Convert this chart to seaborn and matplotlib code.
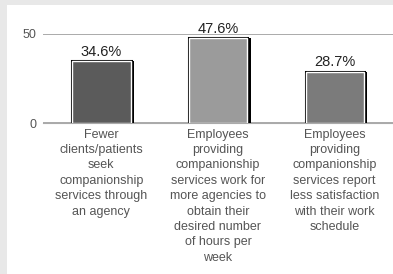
import matplotlib
matplotlib.use("Agg")
import matplotlib.pyplot as plt
import matplotlib.patheffects as pe
from matplotlib.patches import Rectangle
import seaborn as sns
import pandas as pd

# data
categories = [
    "Fewer\nclients/patients\nseek\ncompanionship\nservices through\nan agency",
    "Employees\nproviding\ncompanionship\nservices work for\nmore agencies to\nobtain their\ndesired number\nof hours per\nweek",
    "Employees\nproviding\ncompanionship\nservices report\nless satisfaction\nwith their work\nschedule",
]
values = [34.6, 47.6, 28.7]
bar_colors = ["#5b5b5b", "#9b9b9b", "#7b7b7b"]

sns.set_style("white")
plt.rcParams["font.family"] = ["Liberation Sans", "DejaVu Sans"]

df = pd.DataFrame({"cat": categories, "val": values})

fig = plt.figure(figsize=(3.93, 2.74), dpi=100, facecolor="#e8e8e8")
fig.patches.append(Rectangle((7 / 393, 0), 1, 1 - 5 / 274, transform=fig.transFigure,
                             facecolor="white", edgecolor="none", zorder=-10))
ax = fig.add_axes([43 / 393, 151 / 274, 1 - 43 / 393, 89 / 274])
ax.set_facecolor("none")

sns.barplot(data=df, x="cat", y="val", hue="cat", palette=bar_colors, legend=False,
            width=0.5, edgecolor="white", linewidth=1.0, ax=ax, zorder=3)

for p in ax.patches:
    p.set_path_effects([
        pe.SimplePatchShadow(offset=(2.5, 0), shadow_rgbFace="black", alpha=1),
        pe.Stroke(linewidth=2.2, foreground="black"),
        pe.Normal(),
    ])

for p, v in zip(ax.patches, values):
    ax.text(p.get_x() + p.get_width() / 2, v + 1.5, f"{v}%", ha="center", va="bottom",
            fontsize=10.5, color="#222222")

ax.set_ylim(0, 50)
ax.set_xlim(-0.5, 2.5)
ax.set_yticks([0, 50])
ax.yaxis.grid(True, color="#aaaaaa", linewidth=1.4)
ax.xaxis.grid(False)
for s in ["left", "right", "top"]:
    ax.spines[s].set_visible(False)
ax.spines["bottom"].set_color("#aaaaaa")
ax.set_xlabel("")
ax.set_ylabel("")
ax.tick_params(axis="y", length=0, labelsize=9, labelcolor="#555555", pad=5)
ax.tick_params(axis="x", length=0, labelsize=9, labelcolor="#555555", pad=4)
ax.set_xticks([0.5, 1.5, 2.5], minor=True)
ax.tick_params(axis="x", which="minor", length=3, color="#aaaaaa", direction="out")
for t in ax.get_xticklabels():
    t.set_multialignment("center")
    t.set_linespacing(1.38)

fig.savefig("out.png", dpi=100, facecolor=fig.get_facecolor())
